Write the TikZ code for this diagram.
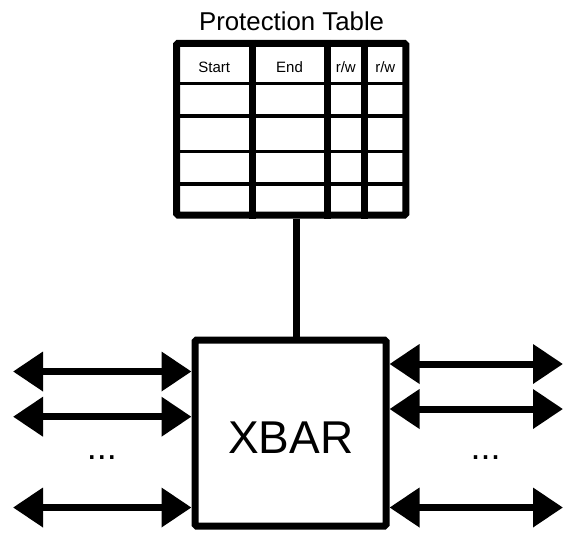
\documentclass[tikz,border=0pt]{standalone}
\usepackage{fontspec}
\setmainfont{Liberation Sans}
\usetikzlibrary{arrows.meta}

\begin{document}
\begin{tikzpicture}[x=1pt,y=-1pt,
  thick line/.style={line width=7pt},
  thin rule/.style={line width=3.5pt},
  frame/.style={draw, thick line, inner sep=0pt, rectangle, rounded corners=1.5pt},
  biarrow/.style={thick line, {Triangle[length=30pt,width=38pt]}-{Triangle[length=30pt,width=38pt]}},
  header/.style={anchor=base, font=\fontsize{15}{18}\selectfont, inner sep=0pt},
  dots/.style={anchor=base, font=\fontsize{36}{40}\selectfont, inner sep=0pt}
]
\useasboundingbox (0,0) rectangle (565,533);

% Protection table frame and title
\node[frame, minimum width=229.3pt, minimum height=171.7pt] (tbl) at (291.15,129.15) {};
\node[anchor=base, inner sep=0pt, font=\fontsize{25.8}{30}\selectfont] (title) at (291.6,30) {Protection Table};

% column separators
\foreach \cx [count=\i] in {252,327,364.7} {
  \coordinate (col\i) at (\cx,0);
  \draw[thick line] (tbl.north -| col\i) -- (tbl.south -| col\i);
}
% row separators
\foreach \ry [count=\i] in {83.3,116,151.7,184} {
  \coordinate (row\i) at (0,\ry);
  \draw[thin rule] (tbl.west |- row\i) -- (tbl.east |- row\i);
}

% header labels
\node[header] (hstart) at (214.3,72.7) {Start};
\node[header] (hend)   at (289.5,72.7) {End};
\node[header] (hrw1)   at (345.8,72.7) {r/w};
\node[header] (hrw2)   at (385.3,72.7) {r/w};

% crossbar
\node[frame, minimum width=191pt, minimum height=186pt] (xbar) at (290.5,433) {};
\node[anchor=base, inner sep=0pt, font=\fontsize{46}{50}\selectfont] (xbarlabel) at (290.8,453.3) {XBAR};

% table to crossbar link
\coordinate (link) at (296,0);
\draw[thick line] (tbl.south -| link) -- (xbar.north -| link);

% left ports
\coordinate (l1) at (13,371.5);
\coordinate (l2) at (13,416.7);
\coordinate (l3) at (13,507.5);
\foreach \p in {l1,l2,l3}
  \draw[biarrow] (\p) -- (xbar.west |- \p);

% right ports
\coordinate (r1) at (563,364);
\coordinate (r2) at (563,409);
\coordinate (r3) at (563,507.5);
\foreach \p in {r1,r2,r3}
  \draw[biarrow] (xbar.east |- \p) -- (\p);

% elided ports
\node[dots] (ldots) at (101.8,459) {...};
\node[dots] (rdots) at (485.5,459) {...};
\end{tikzpicture}
\end{document}
